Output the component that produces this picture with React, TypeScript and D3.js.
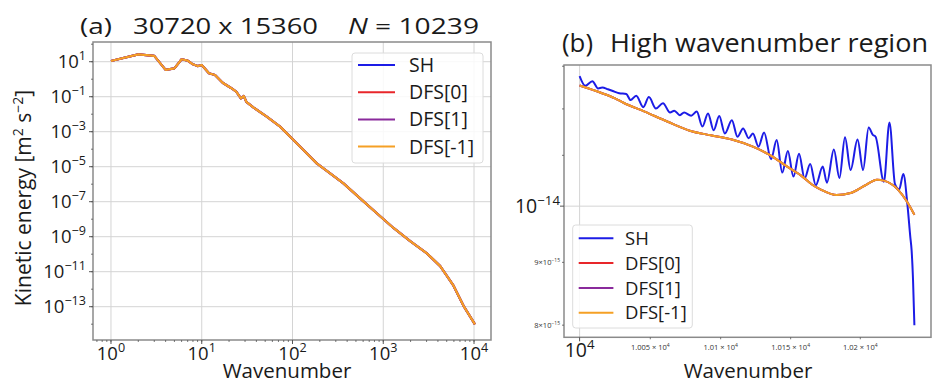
import * as d3 from 'd3';

// Panel (a): full spectrum
const waveA = [1, 2, 3, 4, 5, 6, 7, 8, 9, 10, 12, 14, 17, 21, 24, 27, 29, 31, 37, 52, 73, 98, 132, 185, 260, 364, 556, 849, 1295, 1980, 3026, 4240, 5943, 7659, 10239];
const energyA = [10.96, 26.3, 21.4, 3.39, 4.17, 13.8, 11.5, 7.08, 5.62, 6.46, 2.19, 1.74, 0.631, 0.316, 0.195, 0.0813, 0.11, 0.0513, 0.0245, 7.24e-3, 1.95e-3, 4.17e-4, 8.91e-5, 1.55e-5, 4.17e-6, 1.12e-6, 1.55e-7, 2.19e-8, 3.16e-9, 5.62e-10, 1.12e-10, 2.09e-11, 1.58e-12, 1.12e-13, 9.84e-15];

// Panel (b): high wavenumber region
const waveSH = [10000, 10004, 10009, 10013, 10016, 10020, 10025, 10028, 10033, 10036, 10040, 10045, 10049, 10054, 10059, 10064, 10067, 10071, 10074, 10079, 10083, 10087, 10091, 10095, 10099, 10103, 10108, 10112, 10116, 10120, 10123, 10127, 10131, 10136, 10140, 10144, 10148, 10152, 10156, 10160, 10164, 10168, 10173, 10176, 10181, 10185, 10189, 10193, 10198, 10202, 10206, 10209, 10211, 10217, 10221, 10225, 10228, 10231, 10234, 10236, 10237, 10238, 10239];
const energySH = [1.276e-14, 1.253e-14, 1.264e-14, 1.247e-14, 1.249e-14, 1.245e-14, 1.239e-14, 1.236e-14, 1.234e-14, 1.22e-14, 1.23e-14, 1.204e-14, 1.227e-14, 1.201e-14, 1.213e-14, 1.192e-14, 1.196e-14, 1.186e-14, 1.192e-14, 1.185e-14, 1.194e-14, 1.161e-14, 1.19e-14, 1.153e-14, 1.184e-14, 1.146e-14, 1.175e-14, 1.139e-14, 1.157e-14, 1.136e-14, 1.146e-14, 1.118e-14, 1.148e-14, 1.092e-14, 1.132e-14, 1.065e-14, 1.109e-14, 1.057e-14, 1.103e-14, 1.053e-14, 1.082e-14, 1.04e-14, 1.077e-14, 1.045e-14, 1.112e-14, 1.054e-14, 1.138e-14, 1.07e-14, 1.133e-14, 1.07e-14, 1.159e-14, 1.143e-14, 1.139e-14, 1.047e-14, 1.17e-14, 1.042e-14, 1.032e-14, 1.062e-14, 1.002e-14, 0.945e-14, 0.92e-14, 0.872e-14, 0.8e-14];
const waveDFS = [10000, 10015, 10025, 10031, 10046, 10062, 10078, 10093, 10108, 10123, 10135, 10147, 10158, 10165, 10172, 10183, 10193, 10203, 10212, 10217, 10227, 10233, 10239];
const energyDFS = [1.254e-14, 1.237e-14, 1.224e-14, 1.214e-14, 1.194e-14, 1.172e-14, 1.152e-14, 1.142e-14, 1.133e-14, 1.118e-14, 1.101e-14, 1.078e-14, 1.058e-14, 1.042e-14, 1.031e-14, 1.021e-14, 1.025e-14, 1.039e-14, 1.051e-14, 1.049e-14, 1.032e-14, 1.011e-14, 0.984e-14];

const seriesNames = ['SH', 'DFS[0]', 'DFS[1]', 'DFS[-1]'];
const seriesColors = ['#1c1ce6', '#e8262a', '#8a2a9c', '#f5a025'];

// tick labels
const xExpA = [0, 1, 2, 3, 4];
const yExpA = [1, -1, -3, -5, -7, -9, -11, -13];
const xMinorB = [10050, 10100, 10150, 10200];
const xMinorLabelB = ['1.005', '1.01', '1.015', '1.02'];
const yMinorB = [9e-15, 8e-15];
const yMinorLabelB = ['9', '8'];

const FONT = "'Open Sans', 'DejaVu Sans', sans-serif";
const GRID = '#d4d4d4';
const SPINE = '#8a8a8a';
const TXT = '#1a1a1a';

const sup = (s: string) => s.replace('-', '\u2212');

function Pow10({ x, y, exp, size, anchor = 'middle' }: { x: number; y: number; exp: string; size: number; anchor?: string }) {
    return (
        <text x={x} y={y} fontSize={size} textAnchor={anchor} fill={TXT}>
            10<tspan dy={-size * 0.42} fontSize={size * 0.68}>{sup(exp)}</tspan>
        </text>
    );
}

function Legend({ x, y, w, h, first, step, lineLen, textX, size }: { x: number; y: number; w: number; h: number; first: number; step: number; lineLen: number; textX: number; size: number }) {
    return (
        <g>
            <rect x={x} y={y} width={w} height={h} rx={3} fill="#fff" fillOpacity={0.85} stroke="#dcdcdc" />
            {seriesNames.map((name, i) => (
                <g key={name}>
                    <line x1={x + 6} x2={x + 6 + lineLen} y1={first + i * step} y2={first + i * step} stroke={seriesColors[i]} strokeWidth={2} />
                    <text x={textX} y={first + i * step} dy="0.36em" fontSize={size} fill={TXT}>{name}</text>
                </g>
            ))}
        </g>
    );
}

export default function App() {
    // panel (a) scales
    const A = { left: 93, top: 42, right: 491, bottom: 340 };
    const xA = d3.scaleLog().domain([10 ** -0.198, 10 ** 4.187]).range([A.left, A.right]);
    const yA = d3.scaleLog().domain([10 ** -14.903, 10 ** 2.126]).range([A.bottom, A.top]);
    const lineA = d3.line<number>().x((_, i) => xA(waveA[i])).y(d => yA(d));

    // panel (b) scales
    const B = { left: 564, top: 65, right: 931, bottom: 337.3 };
    const xB = d3.scaleLog().domain([9989, 10251]).range([B.left, B.right]);
    const yB = d3.scaleLog().domain([7.82e-15, 1.303e-14]).range([B.bottom, B.top]);
    const lineSH = d3.line<number>().x((_, i) => xB(waveSH[i])).y(d => yB(d)).curve(d3.curveMonotoneX);
    const lineDFS = d3.line<number>().x((_, i) => xB(waveDFS[i])).y(d => yB(d)).curve(d3.curveMonotoneX);

    const minorXA: number[] = [];
    for (let e = -1; e <= 4; e++) for (let m = 1; m <= 9; m++) {
        const v = m * 10 ** e;
        if (v >= xA.domain()[0] && v <= xA.domain()[1]) minorXA.push(v);
    }
    const decadesYA = d3.range(-14, 3);
    const minorYB = [8e-15, 9e-15, 1.1e-14, 1.2e-14, 1.3e-14];

    return (
        <svg width={932} height={384} style={{ position: 'absolute', left: 0, top: 0, fontFamily: FONT, background: '#fff' }}>
            {/* ---------- panel (a) ---------- */}
            <text x={80} y={34} fontSize={22} fill={TXT} textLength={32} lengthAdjust="spacingAndGlyphs">(a)</text>
            <text x={133} y={34} fontSize={22} fill={TXT} textLength={185} lengthAdjust="spacingAndGlyphs">30720 x 15360</text>
            <text x={348} y={34} fontSize={22} fill={TXT} textLength={131} lengthAdjust="spacingAndGlyphs"><tspan fontStyle="italic">N</tspan> = 10239</text>

            {xExpA.map(e => (
                <line key={'gxa' + e} x1={xA(10 ** e)} x2={xA(10 ** e)} y1={A.top} y2={A.bottom} stroke={GRID} />
            ))}
            {yExpA.map(e => (
                <line key={'gya' + e} x1={A.left} x2={A.right} y1={yA(10 ** e)} y2={yA(10 ** e)} stroke={GRID} />
            ))}

            {seriesNames.map((name, i) => (
                <path key={'a' + name} d={lineA(energyA) || ''} fill="none" stroke={seriesColors[i]} strokeWidth={2.2} strokeLinejoin="round" />
            ))}

            <rect x={A.left} y={A.top} width={A.right - A.left} height={A.bottom - A.top} fill="none" stroke={SPINE} strokeWidth={1.5} />

            {minorXA.map(v => (
                <line key={'mxa' + v} x1={xA(v)} x2={xA(v)} y1={A.bottom} y2={A.bottom + 2} stroke="#555" strokeWidth={0.8} />
            ))}
            {xExpA.map(e => (
                <g key={'txa' + e}>
                    <line x1={xA(10 ** e)} x2={xA(10 ** e)} y1={A.bottom} y2={A.bottom + 4} stroke="#555" />
                    <Pow10 x={xA(10 ** e)} y={360} exp={String(e)} size={18.5} />
                </g>
            ))}
            {decadesYA.map(e => (
                <line key={'mya' + e} x1={A.left - 2} x2={A.left} y1={yA(10 ** e)} y2={yA(10 ** e)} stroke="#555" strokeWidth={0.8} />
            ))}
            {yExpA.map(e => (
                <g key={'tya' + e}>
                    <line x1={A.left - 4} x2={A.left} y1={yA(10 ** e)} y2={yA(10 ** e)} stroke="#555" />
                    <Pow10 x={86} y={yA(10 ** e) + 6.5} exp={String(e)} size={18.5} anchor="end" />
                </g>
            ))}

            <text x={287} y={378} fontSize={20.5} textAnchor="middle" fill={TXT}>Wavenumber</text>
            <text transform="translate(31,198) rotate(-90)" fontSize={21} textAnchor="middle" fill={TXT}>
                Kinetic energy [m<tspan dy={-8} fontSize={14}>2</tspan><tspan dy={8}> s</tspan><tspan dy={-8} fontSize={14}>{'\u2212'}2</tspan><tspan dy={8}>]</tspan>
            </text>

            <Legend x={352} y={53} w={131} h={110} first={65} step={27.2} lineLen={37} textX={409} size={19.5} />

            {/* ---------- panel (b) ---------- */}
            <text x={562} y={52} fontSize={26} fill={TXT} textLength={31} lengthAdjust="spacingAndGlyphs">(b)</text>
            <text x={610} y={52} fontSize={26} fill={TXT} textLength={318} lengthAdjust="spacingAndGlyphs">High wavenumber region</text>

            <line x1={xB(10000)} x2={xB(10000)} y1={B.top} y2={B.bottom} stroke={GRID} />
            <line x1={B.left} x2={B.right} y1={yB(1e-14)} y2={yB(1e-14)} stroke={GRID} />

            <path d={lineSH(energySH) || ''} fill="none" stroke={seriesColors[0]} strokeWidth={2} strokeLinejoin="round" />
            {seriesNames.slice(1).map((name, i) => (
                <path key={'b' + name} d={lineDFS(energyDFS) || ''} fill="none" stroke={seriesColors[i + 1]} strokeWidth={2} strokeLinejoin="round" />
            ))}

            <rect x={B.left} y={B.top} width={B.right - B.left} height={B.bottom - B.top} fill="none" stroke={SPINE} strokeWidth={1.5} />

            <line x1={xB(10000)} x2={xB(10000)} y1={B.bottom} y2={B.bottom + 4} stroke="#555" />
            <Pow10 x={xB(10000)} y={357} exp="4" size={19.5} />
            {xMinorB.map((v, i) => (
                <g key={'mxb' + v}>
                    <line x1={xB(v)} x2={xB(v)} y1={B.bottom} y2={B.bottom + 2} stroke="#555" strokeWidth={0.8} />
                    <text x={xB(v)} y={350} fontSize={7.5} textAnchor="middle" fill="#333">
                        {xMinorLabelB[i]} {'\u00d7'} 10<tspan dy={-3} fontSize={5}>4</tspan>
                    </text>
                </g>
            ))}

            <line x1={B.left - 4} x2={B.left} y1={yB(1e-14)} y2={yB(1e-14)} stroke="#555" />
            <Pow10 x={560} y={yB(1e-14) + 7} exp="-14" size={19.5} anchor="end" />
            {minorYB.map(v => (
                <line key={'myb' + v} x1={B.left - 2} x2={B.left} y1={yB(v)} y2={yB(v)} stroke="#555" strokeWidth={0.8} />
            ))}
            {yMinorB.map((v, i) => (
                <text key={'lyb' + v} x={560} y={yB(v) + 2.5} fontSize={7.5} textAnchor="end" fill="#333">
                    {yMinorLabelB[i]}{'\u00d7'}10<tspan dy={-3} fontSize={5}>{'\u2212'}15</tspan>
                </text>
            ))}

            <text x={748} y={378} fontSize={20.5} textAnchor="middle" fill={TXT}>Wavenumber</text>

            <Legend x={572.7} y={225} w={119.6} h={103} first={238.3} step={24.8} lineLen={34.7} textX={625} size={18.5} />
        </svg>
    );
}
